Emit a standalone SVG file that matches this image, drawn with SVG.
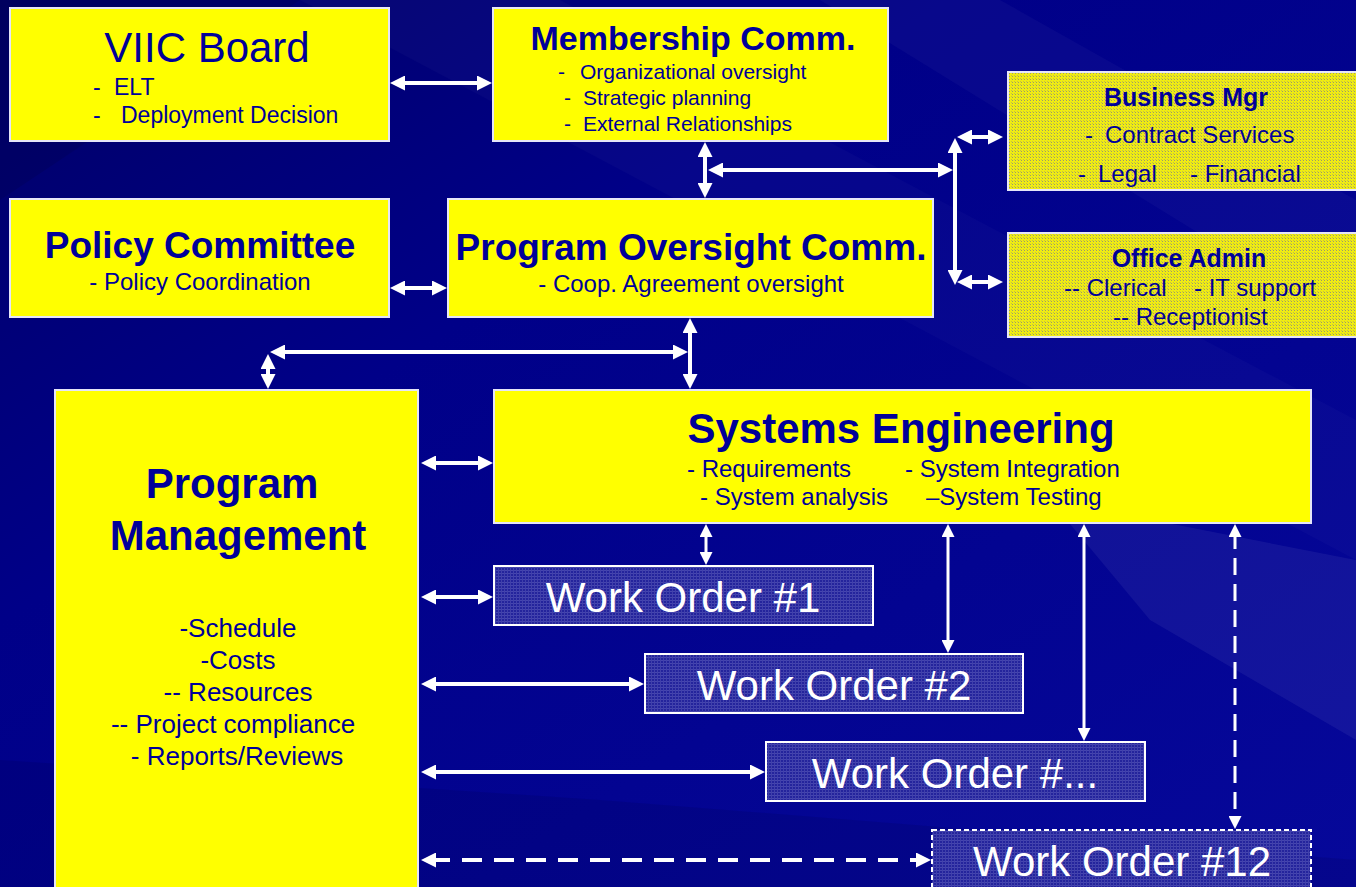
<svg xmlns="http://www.w3.org/2000/svg" width="1356" height="887" viewBox="0 0 1356 887">
<defs>
<linearGradient id="bg" x1="0" y1="0" x2="1" y2="1">
<stop offset="0" stop-color="#000066"/>
<stop offset="0.35" stop-color="#000088"/>
<stop offset="1" stop-color="#06089a"/>
</linearGradient>
<pattern id="ytex" width="3" height="3" patternUnits="userSpaceOnUse">
<rect width="3" height="3" fill="#f0ec12"/>
<rect x="1" y="1" width="1" height="1" fill="#9c9a6a"/>
<rect x="0" y="0" width="1" height="1" fill="#c4c244"/>
</pattern>
<pattern id="btex" width="3" height="3" patternUnits="userSpaceOnUse">
<rect width="3" height="3" fill="#24249c"/>
<rect x="0" y="0" width="3" height="1" fill="#4646b0"/>
<rect x="0" y="0" width="1" height="3" fill="#4040aa"/>
</pattern>
<marker id="ah" viewBox="0 0 15 15" markerWidth="15" markerHeight="15" refX="6" refY="7.5" markerUnits="userSpaceOnUse" orient="auto-start-reverse">
<path d="M0,0 L15,7.5 L0,15 z" fill="#ffffff"/>
</marker>
<marker id="ahs" viewBox="0 0 13 13" markerWidth="13" markerHeight="13" refX="5" refY="6.5" markerUnits="userSpaceOnUse" orient="auto-start-reverse">
<path d="M0,0 L13,6.5 L0,13 z" fill="#ffffff"/>
</marker>
<style>
.yb{fill:#ffff00;stroke:#e6e6f8;stroke-width:2}
.yt{fill:url(#ytex);stroke:#e6e6f8;stroke-width:2}
.wo{fill:url(#btex);stroke:#ffffff;stroke-width:2}
.t{font-family:"Liberation Sans",Arial,sans-serif;fill:#000099}
.b{font-weight:bold}
.w{font-family:"Liberation Sans",Arial,sans-serif;fill:#ffffff;font-size:42px;text-anchor:middle}
.m{text-anchor:middle}
.c{fill:none;stroke:#ffffff;stroke-width:4;marker-start:url(#ah);marker-end:url(#ah)}
.cs{fill:none;stroke:#ffffff;stroke-width:3;marker-start:url(#ahs);marker-end:url(#ahs)}
.d{stroke-dasharray:20 12}
.dv{stroke-dasharray:17 9}
</style>
</defs>
<rect width="1356" height="887" fill="url(#bg)"/>
<g id="background-streaks">
<polygon points="300,0 560,0 1356,420 1356,560" fill="#ffffff" opacity="0.025"/>
<polygon points="820,0 1000,0 1356,200 1356,330" fill="#ffffff" opacity="0.03"/>
<polygon points="1050,500 1356,560 1356,740 1150,620" fill="#ffffff" opacity="0.06"/>
<polygon points="0,760 600,800 1356,860 1356,887 0,887" fill="#000040" opacity="0.15"/>
<polygon points="0,0 300,0 0,200" fill="#000040" opacity="0.2"/>
</g>
<g id="connectors">
<line class="c" x1="399" y1="83" x2="483" y2="83"/>
<line class="c" x1="705" y1="151" x2="705" y2="189"/>
<line class="c" x1="717" y1="170" x2="944" y2="170"/>
<line class="c" x1="955" y1="147" x2="955" y2="276"/>
<line class="c" x1="966" y1="137" x2="994" y2="137"/>
<line class="c" x1="966" y1="282" x2="994" y2="282"/>
<line class="c" x1="399" y1="288" x2="438" y2="288"/>
<line class="c" x1="690" y1="327" x2="690" y2="380"/>
<line class="c" x1="279" y1="352" x2="679" y2="352"/>
<line class="c" x1="268" y1="363" x2="268" y2="380"/>
<line class="c" x1="430" y1="463" x2="484" y2="463"/>
<line class="c" x1="430" y1="597" x2="484" y2="597"/>
<line class="c" x1="430" y1="684" x2="635" y2="684"/>
<line class="c" x1="430" y1="772" x2="756" y2="772"/>
<line class="c d" x1="430" y1="860" x2="922" y2="860"/>
<line class="cs" x1="706" y1="532" x2="706" y2="557"/>
<line class="cs" x1="948" y1="532" x2="948" y2="645"/>
<line class="cs" x1="1084" y1="532" x2="1084" y2="733"/>
<line class="cs dv" x1="1235" y1="532" x2="1235" y2="821"/>
</g>
<g id="viic-board">
<rect class="yb" x="10" y="8" width="379" height="133"/>
<text class="t m" x="207" y="62" font-size="42">VIIC Board</text>
<text class="t" font-size="23"><tspan x="93" y="95">-</tspan><tspan x="114" y="95">ELT</tspan><tspan x="93" y="123">-</tspan><tspan x="121" y="123">Deployment Decision</tspan></text>
</g>
<g id="membership-comm">
<rect class="yb" x="493" y="8" width="395" height="133"/>
<text class="t b m" x="693" y="50" font-size="34">Membership Comm.</text>
<text class="t" font-size="21"><tspan x="558" y="79">-</tspan><tspan x="580" y="79">Organizational oversight</tspan><tspan x="564" y="105">-</tspan><tspan x="583" y="105">Strategic planning</tspan><tspan x="564" y="131">-</tspan><tspan x="583" y="131">External Relationships</tspan></text>
</g>
<g id="business-mgr">
<rect class="yt" x="1008" y="72" width="352" height="118"/>
<text class="t b m" x="1186" y="106" font-size="25">Business Mgr</text>
<text class="t" font-size="24"><tspan x="1085" y="143">-</tspan><tspan x="1105" y="143">Contract Services</tspan><tspan x="1078" y="182">-</tspan><tspan x="1098" y="182">Legal</tspan><tspan x="1190" y="182">- Financial</tspan></text>
</g>
<g id="office-admin">
<rect class="yt" x="1008" y="233" width="352" height="104"/>
<text class="t b m" x="1189" y="267" font-size="25">Office Admin</text>
<text class="t" font-size="24"><tspan x="1064" y="296">-- Clerical</tspan><tspan x="1194" y="296">- IT support</tspan><tspan x="1113" y="325">-- Receptionist</tspan></text>
</g>
<g id="policy-committee">
<rect class="yb" x="10" y="199" width="379" height="118"/>
<text class="t b m" x="200" y="258" font-size="37">Policy Committee</text>
<text class="t m" x="200" y="290" font-size="24">- Policy Coordination</text>
</g>
<g id="program-oversight-comm">
<rect class="yb" x="448" y="199" width="485" height="118"/>
<text class="t b m" x="691" y="260" font-size="37">Program Oversight Comm.</text>
<text class="t m" x="691" y="292" font-size="24">- Coop. Agreement oversight</text>
</g>
<g id="program-management">
<rect class="yb" x="55" y="390" width="363" height="510"/>
<text class="t b m" font-size="42"><tspan x="232" y="498">Program</tspan><tspan x="238" y="550">Management</tspan></text>
<text class="t m" font-size="26"><tspan x="238" y="637">-Schedule</tspan><tspan x="238" y="669">-Costs</tspan><tspan x="238" y="701">-- Resources</tspan><tspan x="233" y="733">-- Project compliance</tspan><tspan x="237" y="765">- Reports/Reviews</tspan></text>
</g>
<g id="systems-engineering">
<rect class="yb" x="494" y="390" width="817" height="133"/>
<text class="t b m" x="901" y="443" font-size="42">Systems Engineering</text>
<text class="t" font-size="24"><tspan x="687" y="477">- Requirements</tspan><tspan x="905" y="477">- System Integration</tspan><tspan x="700" y="505">- System analysis</tspan><tspan x="926" y="505">–System Testing</tspan></text>
</g>
<g id="work-order-1">
<rect class="wo" x="494" y="566" width="379" height="59"/>
<text class="w" x="683" y="612">Work Order #1</text>
</g>
<g id="work-order-2">
<rect class="wo" x="645" y="654" width="378" height="59"/>
<text class="w" x="834" y="700">Work Order #2</text>
</g>
<g id="work-order-dots">
<rect class="wo" x="766" y="742" width="379" height="59"/>
<text class="w" x="955" y="788">Work Order #...</text>
</g>
<g id="work-order-12">
<rect class="wo" x="932" y="830" width="379" height="70" stroke-dasharray="5 3"/>
<text class="w" x="1122" y="876">Work Order #12</text>
</g>
</svg>
